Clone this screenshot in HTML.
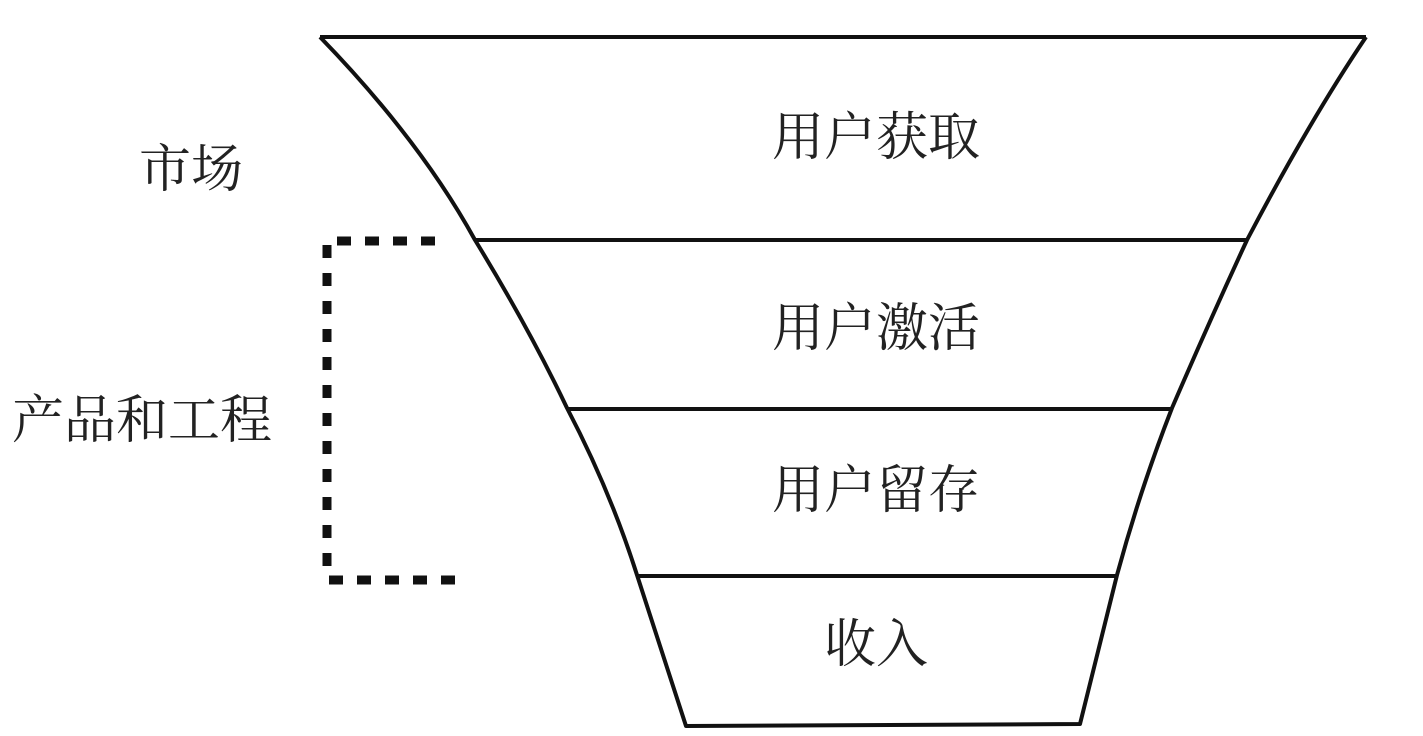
<!DOCTYPE html>
<html><head><meta charset="utf-8"><style>
body{margin:0;background:#fff;}
svg{display:block;}
text{font-family:"Liberation Serif","Noto Serif CJK SC",serif;font-size:52px;fill:#222;}
</style></head><body>
<svg width="1423" height="736" viewBox="0 0 1423 736">
<g fill="none" stroke="#111" stroke-width="4" stroke-linejoin="round">
<path d="M320 37 L1366 37"/>
<path d="M320 37 Q420 140 475 240 Q530 330 567 408 Q610 490 637 575 L686 726 L1080 724 L1117 575 Q1140 490 1172 408 Q1210 320 1247 240 Q1310 120 1366 37"/>
<path d="M475 240 L1247 240"/>
<path d="M567 409 L1172 409"/>
<path d="M637 576 L1117 576"/>
</g>
<g stroke="#111" stroke-width="9" fill="none">
<path d="M337 241 L440 241" stroke-dasharray="14 14"/>
<path d="M327 245 L327 566" stroke-dasharray="13 15"/>
<path d="M329 580 L458 580" stroke-dasharray="14 14"/>
</g>
<text x="876" y="155" text-anchor="middle">用户获取</text>
<text x="876" y="346" text-anchor="middle">用户激活</text>
<text x="876" y="508" text-anchor="middle">用户留存</text>
<text x="876" y="662" text-anchor="middle">收入</text>
<text x="191" y="187" text-anchor="middle">市场</text>
<text x="142" y="438" text-anchor="middle">产品和工程</text>
</svg>
</body></html>
